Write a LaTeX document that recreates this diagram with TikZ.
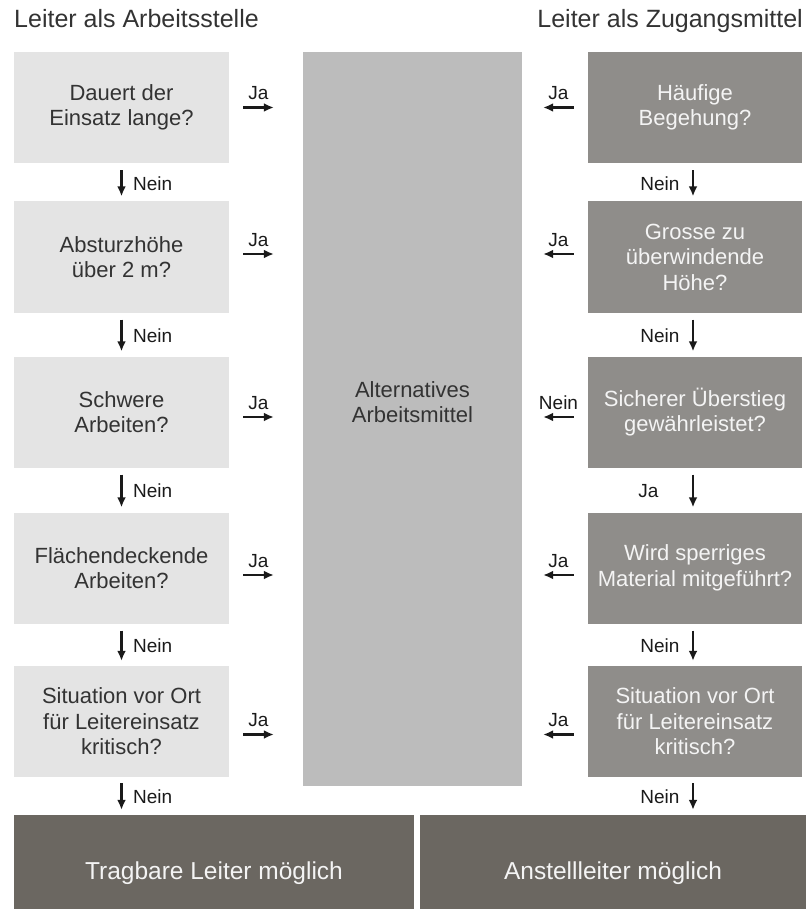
\documentclass[tikz,border=0pt]{standalone}
\usepackage{fontspec}
\setmainfont{Liberation Sans}
\usetikzlibrary{arrows.meta}
\usetikzlibrary{calc, positioning}

\definecolor{leftgray}{HTML}{E4E4E4}
\definecolor{altgray}{HTML}{BCBCBC}
\definecolor{rightgray}{HTML}{8F8D8A}
\definecolor{endgray}{HTML}{6B6761}
\definecolor{boxtext}{HTML}{333333}
\definecolor{lighttext}{HTML}{F4F4F4}
\definecolor{labeltext}{HTML}{1A1A1A}

\tikzset{
  qleft/.style={fill=leftgray, text=boxtext, minimum width=215pt, minimum height=111pt,
    align=center, inner sep=0pt, font=\fontsize{22}{25.5}\selectfont},
  qright/.style={qleft, fill=rightgray, text=lighttext, minimum width=214pt},
  altbox/.style={fill=altgray, minimum width=219pt, minimum height=734pt, inner sep=0pt},
  result/.style={fill=endgray, text=lighttext, minimum height=116pt, inner sep=0pt,
    font=\fontsize{24.5}{30}\selectfont},
  title/.style={inner sep=0pt, text=boxtext, font=\fontsize{25}{29}\selectfont},
  lbl/.style={text=labeltext, font=\fontsize{19}{23}\selectfont},
  flow/.style={->, line width=2.4pt, draw=labeltext}
}

\begin{document}
\begin{tikzpicture}[x=1pt, y=-1pt, >={Latex[length=10pt,width=9pt]}]
\useasboundingbox (0,0) rectangle (806,909);

\node at (14,28) [anchor=base west, title] (headA) {Leiter als Arbeitsstelle};
\node at (803,28) [anchor=base east, title] (headZ) {Leiter als Zugangsmittel};

\node at (121.5,107.5) [qleft] (L1) {Dauert der\\Einsatz lange?};
\node at (121.5,257) [qleft] (L2) {Absturzhöhe\\über 2 m?};
\node at (121.5,412) [qleft] (L3) {Schwere\\Arbeiten?};
\node at (121.5,568) [qleft] (L4) {Flächendeckende\\Arbeiten?};
\node at (121.5,721.5) [qleft] (L5) {Situation vor Ort\\für Leitereinsatz\\kritisch?};

\node at (695,107.5) [qright] (R1) {Häufige\\Begehung?};
\node at (695,257) [qright] (R2) {Grosse zu\\überwindende\\Höhe?};
\node at (695,412) [qright] (R3) {Sicherer Überstieg\\gewährleistet?};
\node at (695,568) [qright] (R4) {Wird sperriges\\Material mitgeführt?};
\node at (695,721.5) [qright] (R5) {Situation vor Ort\\für Leitereinsatz\\kritisch?};

\node at (412.5,419) [altbox] (alt) {};
\node at (412.5,402) [qleft, fill=none, minimum height=0pt] (altlbl) {Alternatives\\Arbeitsmittel};

\node at (214,873) [result, minimum width=400pt] (trag) {Tragbare Leiter möglich};
\node at (613,873) [result, minimum width=386pt] (anst) {Anstellleiter möglich};

% Ja / Nein towards the alternative
\foreach \i/\dy/\ans in {1/0/Ja,2/-3/Ja,3/5/Ja,4/7/Ja,5/13/Ja}
  \draw [flow] ($(L\i.east)+(14,\dy)$) to node[above,yshift=3pt,lbl] {\ans} ($(L\i.east -| alt.west)+(-29,\dy)$);
\foreach \i/\dy/\ans in {1/0/Ja,2/-3/Ja,3/5/Nein,4/7/Ja,5/13/Ja}
  \draw [flow] ($(R\i.west)+(-14,\dy)$) to node[above,yshift=3pt,lbl] {\ans} ($(R\i.west -| alt.east)+(21,\dy)$);

\foreach \i/\j in {1/2,2/3,3/4,4/5}
  \draw [flow] ($(L\i.south)+(0,7)$) to node[right,xshift=7pt,lbl] {Nein} ($(L\j.north)+(0,-5)$);
\draw [flow] ($(L5.south)+(0,6)$) to node[right,xshift=7pt,lbl] {Nein} ($(L5.south |- trag.north)+(0,-5)$);

\foreach \i/\j/\ans/\dx in {1/2/Nein/-9,2/3/Nein/-9,3/4/Ja/-30,4/5/Nein/-9}
  \draw [flow] ($(R\i.south)+(-2,7)$) to node[left,xshift=\dx pt,lbl] {\ans} ($(R\j.north)+(-2,-5)$);
\draw [flow] ($(R5.south)+(-2,6)$) to node[left,xshift=-9pt,lbl] {Nein} ($(R5.south |- anst.north)+(-2,-5)$);

\end{tikzpicture}
\end{document}
